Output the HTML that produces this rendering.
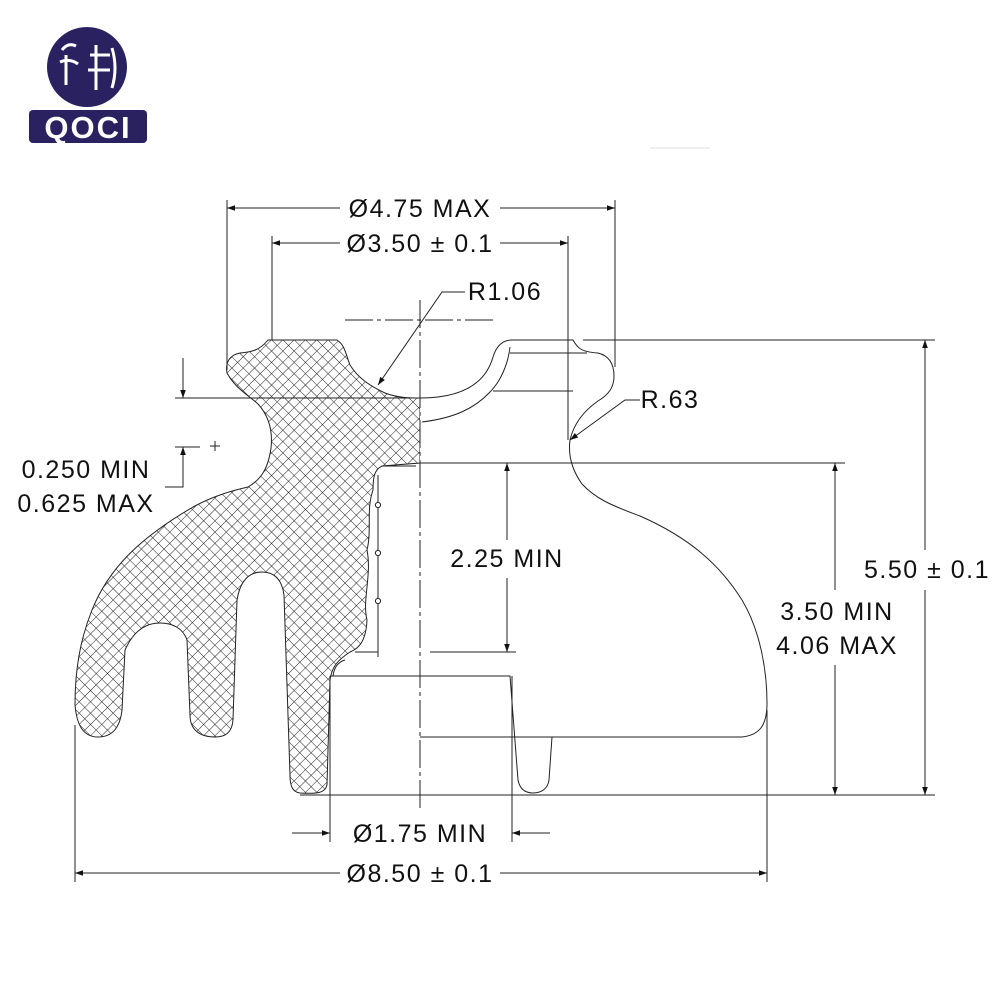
<!DOCTYPE html>
<html><head><meta charset="utf-8"><style>
html,body{margin:0;padding:0;background:#fff;}
svg{display:block;}
text{font-family:"Liberation Sans",Arial,sans-serif;fill:#111;}
</style></head><body>
<svg width="1000" height="1000" viewBox="0 0 1000 1000" xmlns="http://www.w3.org/2000/svg">
<defs>
<pattern id="hatch" width="8" height="8" patternUnits="userSpaceOnUse" patternTransform="rotate(45)">
<path d="M0 0H8M0 0V8" stroke="#222" stroke-width="1"/>
</pattern>
<marker id="ar" viewBox="0 0 10 10" refX="10" refY="5" markerWidth="16" markerHeight="8" markerUnits="userSpaceOnUse" orient="auto">
<path d="M0 1.5L10 5L0 8.5Z" fill="#111"/>
</marker>
</defs>

<!-- logo -->
<circle cx="87" cy="67" r="40" fill="#2a2260"/>
<path d="M62 50 q6 -8 14 -4 M60 62 q10 -4 18 2 M66 55 v30 M96 45 v45 M90 55 h20 M88 70 h22 M112 48 q6 20 0 40" stroke="#fff" stroke-width="3" fill="none"/>
<rect x="29" y="110" width="118" height="33" rx="4" fill="#2a2260"/>
<text x="88" y="138" font-size="31" font-weight="bold" text-anchor="middle" style="fill:#fff" letter-spacing="2">QOCI</text>
<line x1="650" y1="148" x2="710" y2="148" stroke="#ddd" stroke-width="1"/>

<g stroke="#222" stroke-width="1" fill="none">
<path fill="url(#hatch)" d="M227 373 C225 362 230 355 240 353 C252 352 260 350 268 340 L337 340 C345 345 346 355 350 365 C358 378 370 386 385 393 C398 398 410 398 420 398 L420 463 L382 466 C374 470 373 478 373 490 C366 510 372 530 367 550 C372 575 362 600 367 620 C366 640 360 648 350 652 C338 660 332 666 330 680 L327 785 C325 793 318 794 300 793 C292 792 290 785 290 775 L284 595 C282 580 275 572 262 572 C248 572 240 582 237 600 L233 720 C232 733 225 737 215 737 C200 737 190 730 190 715 L187 640 C183 628 172 623 160 623 C145 623 133 632 125 650 L122 710 C120 728 112 737 98 737 C85 737 77 728 75 705 C75 670 80 640 92 610 C110 565 145 535 193 507 C215 495 235 490 248 487 C260 480 268 470 271 448 C273 430 268 415 258 404 C248 395 235 388 227 373 Z"/>
<path fill="#fff" d="M420 398 C460 398 485 385 493 357 C496 347 502 340 512 340 L573 340 C577 347 580 352 598 353 C610 356 614 365 614 376 C614 388 608 395 598 401 C585 410 574 423 570 440 C568 455 572 470 582 484 C595 498 610 505 640 516 C690 538 720 565 742 600 C760 630 767 670 767 703 C767 725 760 735 742 737 L420 737"/>
<path d="M510 347 C508 365 500 382 490 392 C475 408 455 418 422 422"/>
<line x1="510" y1="353" x2="587" y2="353"/>
<line x1="493" y1="391" x2="573" y2="391"/>
<path d="M420 463 L430 463"/>
<line x1="378" y1="475" x2="378" y2="657"/>
<path d="M382 466 L416 466"/>
<path d="M355 652 L378 652 L378 657"/>
<path d="M345 660 C338 662 334 668 333 676"/>
<circle cx="378" cy="505" r="2.6" fill="#fff"/>
<circle cx="378" cy="553" r="2.6" fill="#fff"/>
<circle cx="378" cy="601" r="2.6" fill="#fff"/>
<path d="M330 676 L510 676 L518 780 C520 790 526 793 533 793 C542 793 548 788 549 780 L552 737"/>

<line x1="420" y1="300" x2="420" y2="810" stroke-dasharray="28 4 4 4"/>
<line x1="345" y1="320" x2="495" y2="320" stroke-dasharray="28 4 4 4"/>

<line x1="227" y1="200" x2="227" y2="370"/>
<line x1="615" y1="200" x2="615" y2="367"/>
<line x1="272" y1="236" x2="272" y2="340"/>
<line x1="568" y1="236" x2="568" y2="440"/>
<line x1="340" y1="208" x2="227" y2="208" marker-end="url(#ar)"/>
<line x1="500" y1="208" x2="615" y2="208" marker-end="url(#ar)"/>
<line x1="340" y1="243" x2="272" y2="243" marker-end="url(#ar)"/>
<line x1="500" y1="243" x2="568" y2="243" marker-end="url(#ar)"/>
<path d="M465 292 L442 292 L378 385" marker-end="url(#ar)"/>
<path d="M640 400 L625 400 L570 440" marker-end="url(#ar)"/>

<line x1="175" y1="398" x2="420" y2="398"/>
<line x1="183" y1="358" x2="183" y2="398" marker-end="url(#ar)"/>
<line x1="175" y1="447" x2="200" y2="447"/>
<path d="M165 487 L183 487 L183 447" marker-end="url(#ar)"/>
<path d="M215 441 v10 M210 446 h10"/>

<line x1="430" y1="463" x2="845" y2="463"/>
<line x1="430" y1="652" x2="516" y2="652"/>
<line x1="507" y1="540" x2="507" y2="463" marker-end="url(#ar)"/>
<line x1="507" y1="578" x2="507" y2="652" marker-end="url(#ar)"/>
<line x1="583" y1="340" x2="935" y2="340"/>
<line x1="300" y1="795" x2="935" y2="795"/>
<line x1="835" y1="590" x2="835" y2="463" marker-end="url(#ar)"/>
<line x1="835" y1="665" x2="835" y2="795" marker-end="url(#ar)"/>
<line x1="925" y1="550" x2="925" y2="340" marker-end="url(#ar)"/>
<line x1="925" y1="590" x2="925" y2="795" marker-end="url(#ar)"/>

<line x1="330" y1="676" x2="330" y2="842"/>
<line x1="512" y1="676" x2="512" y2="842"/>
<line x1="292" y1="833" x2="330" y2="833" marker-end="url(#ar)"/>
<line x1="550" y1="833" x2="512" y2="833" marker-end="url(#ar)"/>
<line x1="75" y1="725" x2="75" y2="882"/>
<line x1="767" y1="710" x2="767" y2="882"/>
<line x1="340" y1="873" x2="75" y2="873" marker-end="url(#ar)"/>
<line x1="500" y1="873" x2="767" y2="873" marker-end="url(#ar)"/>
</g>

<g font-size="25" text-anchor="middle" letter-spacing="1.5">
<text x="420" y="217">Ø4.75 MAX</text>
<text x="420" y="252">Ø3.50 ± 0.1</text>
<text x="505" y="300">R1.06</text>
<text x="670" y="408">R.63</text>
<text x="86" y="478">0.250 MIN</text>
<text x="86" y="512">0.625 MAX</text>
<text x="507" y="567">2.25 MIN</text>
<text x="837" y="620">3.50 MIN</text>
<text x="837" y="654">4.06 MAX</text>
<text x="927" y="578">5.50 ± 0.1</text>
<text x="420" y="842">Ø1.75 MIN</text>
<text x="420" y="882">Ø8.50 ± 0.1</text>
</g>
</svg>
</body></html>
